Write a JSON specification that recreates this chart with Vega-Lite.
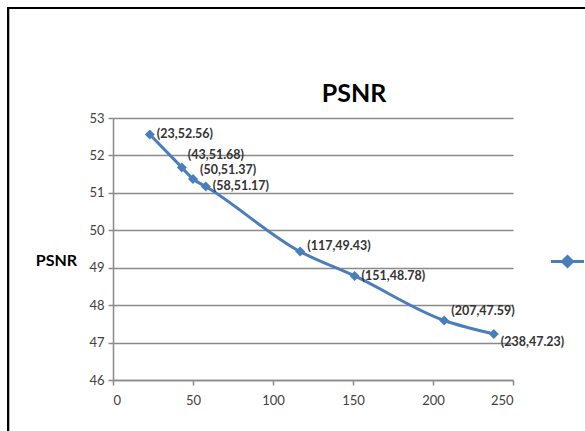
{
  "$schema": "https://vega.github.io/schema/vega-lite/v6.json",
  "width": 400,
  "height": 262,
  "autosize": "none",
  "padding": {"left": 113, "top": 118, "right": 72, "bottom": 51},
  "background": "white",
  "config": {"view": {"stroke": null}, "font": "Lato"},
  "title": {"text": "PSNR", "fontSize": 25, "font": "Lato", "fontWeight": "bold", "color": "#000000", "anchor": "middle", "frame": "group", "dx": 41, "offset": 0, "dy": 100},
  "data": {
    "values": [
      {"x": 23, "psnr": 52.56, "label": "(23,52.56)"},
      {"x": 43, "psnr": 51.68, "label": "(43,51.68)"},
      {"x": 50, "psnr": 51.37, "label": "(50,51.37)"},
      {"x": 58, "psnr": 51.17, "label": "(58,51.17)"},
      {"x": 117, "psnr": 49.43, "label": "(117,49.43)"},
      {"x": 151, "psnr": 48.78, "label": "(151,48.78)"},
      {"x": 207, "psnr": 47.59, "label": "(207,47.59)"},
      {"x": 238, "psnr": 47.23, "label": "(238,47.23)"}
    ]
  },
  "encoding": {
    "x": {
      "field": "x", "type": "quantitative",
      "scale": {"domain": [0, 250], "nice": false, "zero": false},
      "axis": {"values": [0, 50, 100, 150, 200, 250], "grid": false, "title": null, "domainColor": "#8a8a8a", "domainWidth": 1.5, "tickColor": "#8a8a8a", "tickWidth": 1.5, "tickSize": 5, "labelFont": "Lato", "labelFontSize": 13, "labelColor": "#404040", "labelPadding": 9}
    },
    "y": {
      "field": "psnr", "type": "quantitative",
      "scale": {"domain": [46, 53], "nice": false, "zero": false},
      "axis": {"values": [46, 47, 48, 49, 50, 51, 52, 53], "grid": true, "gridColor": "#8a8a8a", "gridWidth": 1.5, "domainColor": "#8a8a8a", "domainWidth": 1.5, "tickColor": "#8a8a8a", "tickWidth": 1.5, "tickSize": 5, "labelFont": "Lato", "labelFontSize": 13, "labelColor": "#404040", "labelPadding": 4, "title": "PSNR", "titleAngle": 0, "titleFont": "Lato", "titleFontSize": 16, "titleFontWeight": "bold", "titleColor": "#000000", "titleX": -57, "titleY": 142, "titleAlign": "center", "titleBaseline": "middle"}
    }
  },
  "layer": [
    {
      "mark": {"type": "rect", "fill": null, "stroke": "#000000", "strokeWidth": 2, "clip": false},
      "encoding": {
        "x": {"datum": -65.6, "type": "quantitative"},
        "x2": {"datum": 305},
        "y": {"datum": 55.94, "type": "quantitative"},
        "y2": {"datum": 44.3}
      }
    },
    {
      "mark": {"type": "line", "interpolate": "monotone", "stroke": "#4A7EBB", "strokeWidth": 3}
    },
    {
      "mark": {"type": "point", "shape": "diamond", "filled": true, "size": 100, "opacity": 1},
      "encoding": {
        "color": {
          "datum": "Series1",
          "scale": {"range": ["#4A7EBB"]},
          "legend": {"title": null, "orient": "none", "legendX": 448, "legendY": 137, "padding": 0, "symbolType": "M-3.3,0H3.3M0,-1L1,0L0,1L-1,0Z", "symbolSize": 100, "symbolStrokeColor": "#4A7EBB", "symbolFillColor": "#4A7EBB", "symbolStrokeWidth": 3, "labelFont": "Lato", "labelFontSize": 13, "labelColor": "#404040", "labelOffset": 20}
        }
      }
    },
    {
      "transform": [{"filter": "datum.x == 23 || datum.x == 58 || datum.x == 151"}],
      "mark": {"type": "text", "align": "left", "baseline": "middle", "dx": 7, "dy": 0, "font": "Lato", "fontSize": 12.5, "fontWeight": "bold", "color": "#333333"},
      "encoding": {"text": {"field": "label"}}
    },
    {
      "transform": [{"filter": "datum.x == 43"}],
      "mark": {"type": "text", "align": "left", "baseline": "middle", "dx": 6, "dy": -12, "font": "Lato", "fontSize": 12.5, "fontWeight": "bold", "color": "#333333"},
      "encoding": {"text": {"field": "label"}}
    },
    {
      "transform": [{"filter": "datum.x == 50 || datum.x == 207"}],
      "mark": {"type": "text", "align": "left", "baseline": "middle", "dx": 7, "dy": -9, "font": "Lato", "fontSize": 12.5, "fontWeight": "bold", "color": "#333333"},
      "encoding": {"text": {"field": "label"}}
    },
    {
      "transform": [{"filter": "datum.x == 117"}],
      "mark": {"type": "text", "align": "left", "baseline": "middle", "dx": 7, "dy": -6, "font": "Lato", "fontSize": 12.5, "fontWeight": "bold", "color": "#333333"},
      "encoding": {"text": {"field": "label"}}
    },
    {
      "transform": [{"filter": "datum.x == 238"}],
      "mark": {"type": "text", "align": "left", "baseline": "middle", "dx": 7, "dy": 8, "font": "Lato", "fontSize": 12.5, "fontWeight": "bold", "color": "#333333"},
      "encoding": {"text": {"field": "label"}}
    }
  ]
}
